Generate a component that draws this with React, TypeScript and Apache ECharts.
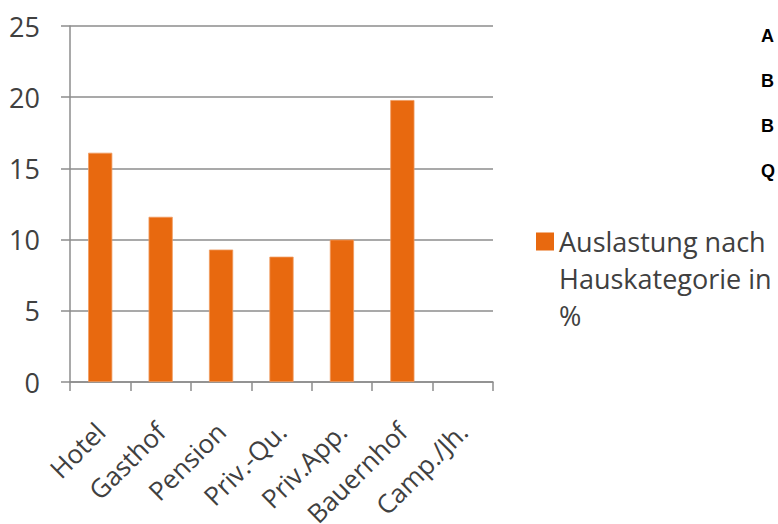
import React, { useEffect, useRef } from "react";
import * as echarts from "echarts";

const categories = ["Hotel", "Gasthof", "Pension", "Priv.-Qu.", "Priv.App.", "Bauernhof", "Camp./Jh."];
const values: (number | null)[] = [16.1, 11.6, 9.3, 8.8, 10.0, 19.8, null];
const seriesName = "Auslastung nach\nHauskategorie in\n%";
const sideLetters = ["A", "B", "B", "Q"];
const yTicks = { min: 0, max: 25, interval: 5 };

const FONT = "'Open Sans', sans-serif";
const FS = 27;
const ORANGE = "#E8690F";
const GRAY = "#8C8C8C";
const TEXT = "#404040";

export default function App() {
  const ref = useRef<HTMLDivElement>(null);

  useEffect(() => {
    if (!ref.current) return;
    const chart = echarts.init(ref.current, null, { renderer: "svg" });
    const option: any = {
      animation: false,
      backgroundColor: "#ffffff",
      textStyle: { fontFamily: FONT },
      grid: {
        left: 70,
        right: 285,
        top: 26,
        bottom: 142,
        containLabel: false,
        outerBoundsMode: "none",
      },
      xAxis: {
        type: "category",
        data: categories,
        boundaryGap: true,
        axisLine: { show: true, lineStyle: { color: GRAY, width: 1.5 } },
        axisTick: { show: true, length: 9, inside: false, lineStyle: { color: GRAY, width: 1.5 } },
        axisLabel: {
          rotate: 45,
          margin: 45,
          fontFamily: FONT,
          fontSize: 26,
          color: TEXT,
          interval: 0,
          hideOverlap: false,
        },
      },
      yAxis: {
        type: "value",
        min: yTicks.min,
        max: yTicks.max,
        interval: yTicks.interval,
        axisLine: { show: true, lineStyle: { color: GRAY, width: 1.5 } },
        axisTick: { show: true, length: 9, inside: false, lineStyle: { color: GRAY, width: 1.5 } },
        splitLine: { show: true, lineStyle: { color: GRAY, width: 1.5 } },
        axisLabel: {
          margin: 30,
          fontFamily: FONT,
          fontSize: FS,
          color: TEXT,
        },
      },
      legend: {
        show: true,
        orient: "vertical",
        left: 536,
        top: 223,
        padding: 0,
        icon: "path://M0,0H18V18H0Z M0,91.99H0.01V92H0Z",
        itemWidth: 18,
        itemHeight: 92,
        itemGap: 8,
        itemStyle: { borderWidth: 0 },
        textStyle: {
          fontFamily: FONT,
          fontSize: FS,
          color: TEXT,
          lineHeight: 37,
        },
        data: [seriesName],
      },
      graphic: sideLetters.map((t, i) => ({
        type: "text",
        left: 761,
        top: 27 + i * 45,
        style: {
          text: t,
          fontFamily: "'Liberation Sans', Arial, sans-serif",
          fontWeight: "bold",
          fontSize: 18,
          fill: "#000000",
        },
      })),
      series: [
        {
          name: seriesName,
          type: "bar",
          data: values,
          barWidth: "40%",
          itemStyle: { color: ORANGE, borderColor: "#F09A5E", borderWidth: 0.8 },
        },
      ],
    };
    chart.setOption(option);
    return () => chart.dispose();
  }, []);

  return (
    <div
      ref={ref}
      style={{ position: "absolute", left: 0, top: 0, width: 778, height: 524 }}
    />
  );
}
